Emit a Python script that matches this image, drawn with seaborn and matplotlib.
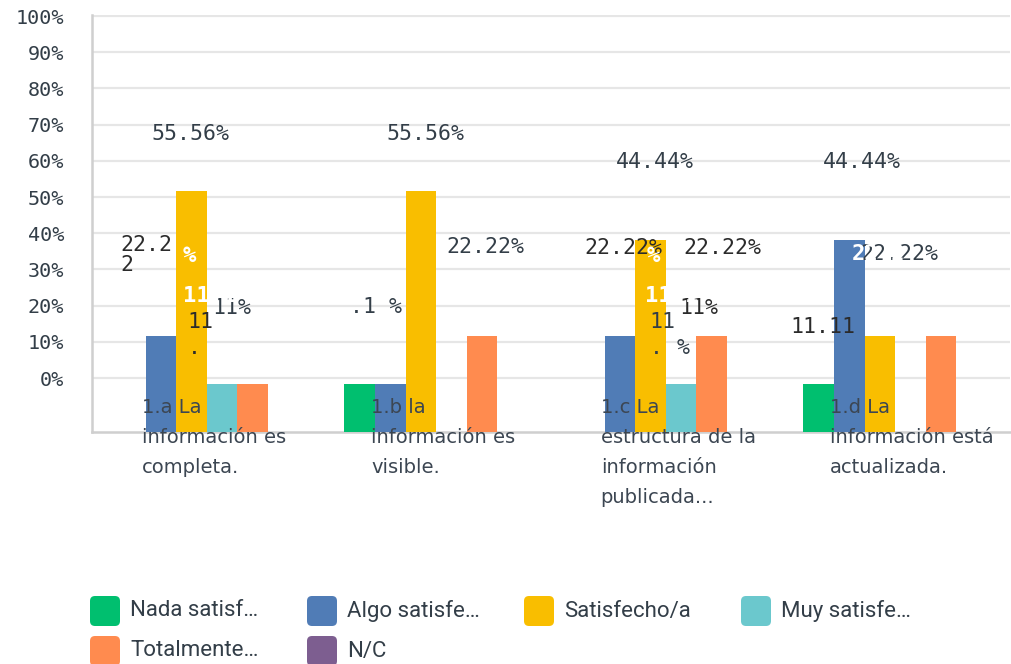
import numpy as np
import pandas as pd
import matplotlib
matplotlib.use("Agg")
import matplotlib.pyplot as plt
import seaborn as sns
from matplotlib.patches import FancyBboxPatch
from matplotlib.transforms import IdentityTransform

# ---------------- data ----------------
categories = [
    "1.a La información es completa.",
    "1.b la información es visible.",
    "1.c La estructura de la información publicada...",
    "1.d La información está actualizada.",
]
category_labels = [
    "1.a La\ninformación es\ncompleta.",
    "1.b la\ninformación es\nvisible.",
    "1.c La\nestructura de la\ninformación\npublicada...",
    "1.d La\ninformación está\nactualizada.",
]
series = ["Nada satisfecho/a", "Algo satisfecho/a", "Satisfecho/a",
          "Muy satisfecho/a", "Totalmente satisfecho/a", "N/C"]
legend_labels = ["Nada satisf…", "Algo satisfe…", "Satisfecho/a",
                 "Muy satisfe…", "Totalmente…", "N/C"]
colors = ["#00BF6F", "#507CB6", "#F9BE00", "#6BC8CD", "#FF8B4F", "#7D5E90"]

nada = [0.0, 11.11, 0.0, 11.11]
algo = [22.22, 11.11, 22.22, 44.44]
satisfecho = [55.56, 55.56, 44.44, 22.22]
muy = [11.11, 0.0, 11.11, 0.0]
totalmente = [11.11, 22.22, 22.22, 22.22]
nc = [0.0, 0.0, 0.0, 0.0]
y_ticks = [0, 10, 20, 30, 40, 50, 60, 70, 80, 90, 100]

values = [nada, algo, satisfecho, muy, totalmente, nc]
rows = []
for s, vals in zip(series, values):
    for c, v in zip(categories, vals):
        rows.append({"category": c, "series": s, "value": v})
df = pd.DataFrame(rows)

# ---------------- figure ----------------
W, H = 1012, 664
sns.set_theme(style="white")
plt.rcParams["font.family"] = ["DejaVu Sans"]
fig = plt.figure(figsize=(W / 100, H / 100), dpi=100)
fig.patch.set_facecolor("white")

ax_l, ax_r, ax_t, ax_b = 92, 1010, 15, 432
rect = [ax_l / W, (H - ax_b) / H, (ax_r - ax_l) / W, (ax_b - ax_t) / H]

TXT = "#333e48"
MONO = ["DejaVu Sans Mono", "DejaVu Sans"]

# axis carrying the percentage grid and tick labels
gax = fig.add_axes(rect)
gax.set_xlim(0, 1)
gax.set_ylim(-14.9, 100.3)
gax.set_yticks(y_ticks)
gax.set_yticklabels([f"{t}%" for t in y_ticks], family=MONO, fontsize=14.5, color=TXT)
gax.set_xticks([])
gax.tick_params(axis="y", length=0, pad=20)
gax.grid(axis="y", color="#e6e6e6", linewidth=1.6)
gax.set_axisbelow(True)
for side in ["top", "right"]:
    gax.spines[side].set_visible(False)
for side in ["left", "bottom"]:
    gax.spines[side].set_color("#cfcfcf")
    gax.spines[side].set_linewidth(1.8)

# axis carrying the bars
bax = fig.add_axes(rect)
bax.patch.set_alpha(0)
sns.barplot(data=df, x="category", y="value", hue="series", hue_order=series,
            palette=colors, saturation=1, width=0.8, linewidth=0,
            errorbar=None, legend=False, ax=bax)
bax.set_ylim(0, 96.3)
bax.set_xlim(-0.5, 3.5)
bax.set_axis_off()

fig.canvas.draw()
centers = [bax.transData.transform((i, 0))[0] for i in range(len(categories))]


def put(i, dx, y, text, ha="left", va="center", color="#2b2b2b", weight="normal",
        size=15.5, family=MONO, ls=1.0):
    fig.text((centers[i] + dx) / W, 1 - y / H, text, ha=ha, va=va, color=color,
             fontsize=size, fontweight=weight, family=family, linespacing=ls,
             zorder=10)


fmt = lambda v: f"{v:.2f}%"

# 1.a
put(0, -16, 134, fmt(satisfecho[0]), ha="center", color=TXT)
s = fmt(algo[0])
put(0, -86, 235, s[:4] + "\n" + s[4], va="top", ls=1.0)
s = fmt(muy[0])
put(0, 6, 308, s[3:], color=TXT)
put(0, -19, 312, s[:2] + "\n" + s[2], va="top", ls=1.35)
put(0, -24, 256, "%", color="white", weight="bold", size=16)
put(0, -24, 296, s[:4], color="white", weight="bold", size=16)

# 1.b
put(1, -11, 134, fmt(satisfecho[1]), ha="center", color=TXT)
put(1, 10.5, 247, fmt(totalmente[1]), color=TXT)
s = fmt(nada[1])
put(1, -86, 307, s[2:4] + " " + s[-1], color=TXT)

# 1.c
put(2, -11, 162, fmt(satisfecho[2]), ha="center", color=TXT)
put(2, -81, 248, fmt(algo[2]), color="#2b2b2b")
put(2, 18, 248, fmt(totalmente[2]), color="#2b2b2b")
s = fmt(muy[2])
put(2, 14, 308, s[3:], color="#2b2b2b")
put(2, -16, 312, s[:2] + "\n" + s[2], va="top", ls=1.35, color=TXT)
put(2, 11, 348, s[-1], color=TXT)
put(2, -19, 256, "%", color="white", weight="bold", size=16)
put(2, -21, 296, s[:4], color="white", weight="bold", size=16)

# 1.d
put(3, -33.5, 162, fmt(algo[3]), ha="center", color=TXT)
put(3, -34.5, 254, fmt(satisfecho[3]), color=TXT)
put(3, -43.5, 254, fmt(satisfecho[3])[:4], color="white", weight="bold", size=16)
put(3, -104.5, 327, fmt(nada[3])[:5], color="#2b2b2b")

# category labels drawn inside the plot area, as in the reference
for i, lab in enumerate(category_labels):
    fig.text((centers[i] - 65) / W, 1 - 398 / H, lab, ha="left", va="top",
             fontsize=14, color="#3c4652", family=["DejaVu Sans"],
             linespacing=1.74, zorder=11)

# legend (rounded squares)
for k, (lab, col) in enumerate(zip(legend_labels, colors)):
    row, colm = divmod(k, 4)
    x0 = 90 + colm * 217
    yc = 611 + row * 40
    box = FancyBboxPatch((x0, H - yc - 15), 30, 30,
                         boxstyle="round,pad=0,rounding_size=5",
                         facecolor=col, edgecolor="none",
                         transform=IdentityTransform())
    fig.add_artist(box)
    fig.text((x0 + 40) / W, 1 - yc / H, lab, ha="left", va="center",
             fontsize=16, color=TXT,
             family=["Liberation Sans Narrow", "Roboto", "DejaVu Sans"])

fig.savefig("out.png", dpi=100, facecolor="white")
